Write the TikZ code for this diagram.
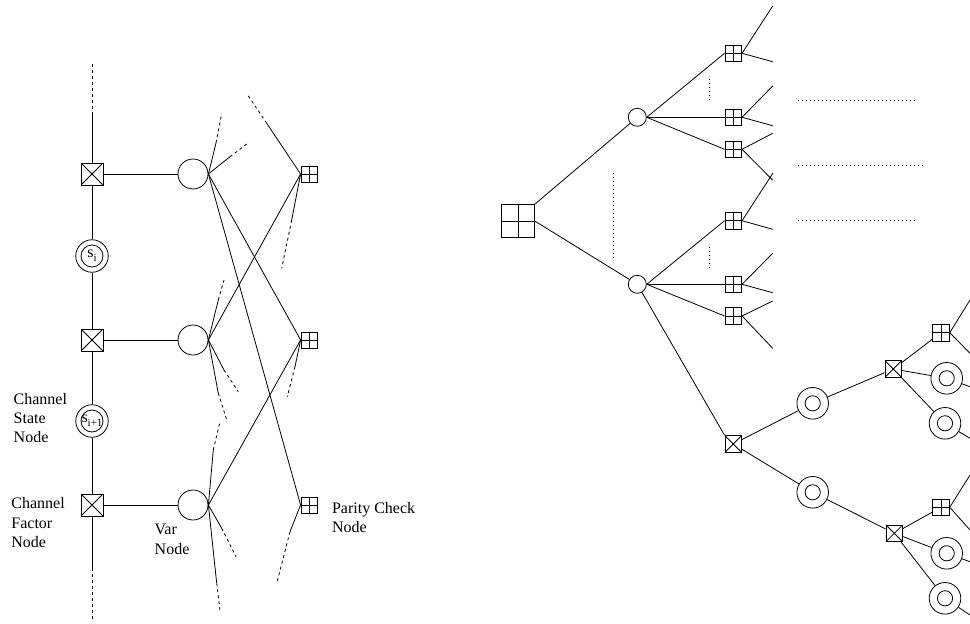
\documentclass[tikz,border=0pt]{standalone}
\usepackage{fontspec}
\setmainfont{Liberation Serif}
\begin{document}
\begin{tikzpicture}[x=1pt,y=-1pt,line width=0.8pt,
  factor/.style={draw,inner sep=0pt,minimum size=#1,
    path picture={\draw (path picture bounding box.north west) -- (path picture bounding box.south east)
      (path picture bounding box.north east) -- (path picture bounding box.south west);}},
  parity/.style={draw,inner sep=0pt,minimum size=#1,
    path picture={\draw (path picture bounding box.north) -- (path picture bounding box.south)
      (path picture bounding box.west) -- (path picture bounding box.east);}},
  varnode/.style={draw,circle,inner sep=0pt,minimum size=#1},
  statenode/.style 2 args={draw,circle,inner sep=0pt,minimum size=#1,
    path picture={\draw (path picture bounding box.center) circle (#2);}},
  dsh/.style={dash pattern=on 3pt off 3pt},
  dots/.style={line width=0.6pt,dash pattern=on 0.8pt off 3.2pt},
  lbl/.style={anchor=north west,inner sep=0pt,align=left,font=\fontsize{16}{19.2}\selectfont}]
\useasboundingbox (0,0) rectangle (970,624);

% ---------- left graph ----------
\node[factor=22pt] (f1) at (92,174) {};
\node[statenode={32.5pt}{11pt},font=\fontsize{16}{16}\selectfont] (s1) at (92,256) {s\raisebox{-4pt}{\fontsize{11}{11}\selectfont i}};
\node[factor=22pt] (f2) at (92,340) {};
\node[statenode={32.5pt}{11pt},font=\fontsize{16}{16}\selectfont] (s2) at (92,421) {s\raisebox{-4pt}{\fontsize{11}{11}\selectfont i+1}};
\node[factor=22pt] (f3) at (92,505) {};

\coordinate (topS) at (92,115); \coordinate (topE) at (92,62);
\coordinate (botS) at (92,568); \coordinate (botE) at (92,620);
\draw (f1) -- (topS); \draw[dsh] (topS) -- (topE);
\draw (f1) -- (s1) -- (f2) -- (s2) -- (f3) -- (botS);
\draw[dsh] (botS) -- (botE);

\node[varnode=30pt] (v1) at (193,174) {};
\node[varnode=30pt] (v2) at (193,340) {};
\node[varnode=30pt] (v3) at (193,505) {};
\node[parity=16pt] (p1) at (309,174) {};
\node[parity=16pt] (p2) at (309,340) {};
\node[parity=16pt] (p3) at (309,505) {};

\draw (f1) -- (v1); \draw (f2) -- (v2); \draw (f3) -- (v3);
\draw (v1.east) -- (p2.west);
\draw (v1.east) -- (p3.west);
\draw (v2.east) -- (p1.west);
\draw (v3.east) -- (p2.west);

% dangling edges (solid part then dashed)
\coordinate (a1m) at (216,143);   \coordinate (a1e) at (221.7,113.3);
\coordinate (a2m) at (230,156.7); \coordinate (a2e) at (247.7,143.3);
\coordinate (b1m) at (266.7,123.3); \coordinate (b1e) at (247.7,95);
\coordinate (b2m) at (291.7,220); \coordinate (b2e) at (281.7,268.3);
\coordinate (c1m) at (218.3,300); \coordinate (c1e) at (224,280);
\coordinate (c2m) at (224,370);   \coordinate (c2e) at (238.3,391.7);
\coordinate (c3m) at (218.3,393.3); \coordinate (c3e) at (227.3,421.7);
\coordinate (d1m) at (295,366.7); \coordinate (d1e) at (287.3,396.7);
\coordinate (e1m) at (213.3,450); \coordinate (e1e) at (220,421.7);
\coordinate (e2m) at (221.7,528.3); \coordinate (e2e) at (236,556.7);
\coordinate (e3m) at (216.7,583.3); \coordinate (e3e) at (220,610);
\coordinate (g1m) at (290,531.7); \coordinate (g1e) at (276.7,583.3);

\draw (v1.east) -- (a1m); \draw[dsh] (a1m) -- (a1e);
\draw (v1.east) -- (a2m); \draw[dsh] (a2m) -- (a2e);
\draw (p1.west) -- (b1m); \draw[dsh] (b1m) -- (b1e);
\draw (p1.west) -- (b2m); \draw[dsh] (b2m) -- (b2e);
\draw (v2.east) -- (c1m); \draw[dsh] (c1m) -- (c1e);
\draw (v2.east) -- (c2m); \draw[dsh] (c2m) -- (c2e);
\draw (v2.east) -- (c3m); \draw[dsh] (c3m) -- (c3e);
\draw (p2.west) -- (d1m); \draw[dsh] (d1m) -- (d1e);
\draw (v3.east) -- (e1m); \draw[dsh] (e1m) -- (e1e);
\draw (v3.east) -- (e2m); \draw[dsh] (e2m) -- (e2e);
\draw (v3.east) -- (e3m); \draw[dsh] (e3m) -- (e3e);
\draw (p3.west) -- (g1m); \draw[dsh] (g1m) -- (g1e);

% labels
\node[lbl] (l1) at (13.3,393) {Channel\\State\\Node};
\node[lbl] (l2) at (11,497.3) {Channel\\Factor\\Node};
\node[lbl] (l3) at (154.3,524) {Var\\Node};
\node[lbl] (l4) at (331.7,502) {Parity Check\\Node};

% ---------- right tree ----------
\node[parity=32.6pt] (B) at (518,221) {};
\node[varnode=18pt] (V1) at (637.3,117.3) {};
\node[varnode=18pt] (V2) at (637.3,284.3) {};
\foreach \n/\y in {1/53.3,2/117.3,3/149.3,4/220.7,5/284.3,6/316}
  \node[parity=16.7pt] (Q\n) at (733.3,\y) {};
\node[factor=16.7pt] (F1) at (733.3,444) {};
\node[statenode={31.6pt}{7.6pt}] (S1) at (812.7,403.3) {};
\node[statenode={31.6pt}{7.6pt}] (S2) at (812.7,492.3) {};
\node[factor=16.7pt] (F2) at (893.3,369) {};
\node[factor=16.7pt] (F3) at (894.3,533.3) {};
\node[parity=16.7pt] (P1) at (941,332.7) {};
\node[statenode={31.6pt}{7.6pt}] (T1) at (946.7,378.3) {};
\node[statenode={31.6pt}{7.6pt}] (T2) at (945,423.3) {};
\node[parity=16.7pt] (P2) at (941,507.3) {};
\node[statenode={31.6pt}{7.6pt}] (T3) at (946.7,553.3) {};
\node[statenode={31.6pt}{7.6pt}] (T4) at (945,598.3) {};

\draw (B.north east) -- (V1);
\draw (B.east) -- (V2);
\foreach \n in {1,2,3} \draw (V1.east) -- (Q\n.west);
\foreach \n in {4,5,6} \draw (V2.east) -- (Q\n.west);
\draw (V2) -- (F1.north west);
\draw (F1) -- (S1); \draw (F1) -- (S2);
\draw (S1) -- (F2); \draw (S2) -- (F3);
\draw (F2) -- (P1); \draw (F2) -- (T1); \draw (F2) -- (T2);
\draw (F3) -- (P2); \draw (F3) -- (T3); \draw (F3) -- (T4);

% free ends of the tree
\coordinate (q1u) at (772.7,6);    \coordinate (q1d) at (772.7,61.7);
\coordinate (q2u) at (772.7,86);   \coordinate (q2d) at (772.7,125.7);
\coordinate (q3u) at (772.7,133.3); \coordinate (q3d) at (772.5,180);
\coordinate (q4u) at (773,173);    \coordinate (q4d) at (772.7,229.3);
\coordinate (q5u) at (772.7,253.3); \coordinate (q5d) at (772.7,292.7);
\coordinate (q6u) at (772.7,301);  \coordinate (q6d) at (772.7,348.3);
\foreach \n in {1,...,6} {\draw (Q\n.east) -- (q\n u); \draw (Q\n.east) -- (q\n d);}
\coordinate (r1u) at (970,300); \coordinate (r1d) at (970,353.3);
\coordinate (r2u) at (970,475); \coordinate (r2d) at (970,530);
\coordinate (t1e) at (970,386.7); \coordinate (t2e) at (970,438.3);
\coordinate (t3e) at (970,561.7); \coordinate (t4e) at (970,615);
\draw (P1.east) -- (r1u); \draw (P1.east) -- (r1d);
\draw (P2.east) -- (r2u); \draw (P2.east) -- (r2d);
\draw (T1) -- (t1e); \draw (T2) -- (t2e); \draw (T3) -- (t3e); \draw (T4) -- (t4e);

% dotted ellipses
\draw[dots] (613.3,173) -- (613.3,260);
\draw[dots] (709.3,79) -- (709.3,100);
\draw[dots] (709.3,247) -- (709.3,268);
\draw[dots] (797.7,100.7) -- (915,100.7);
\draw[dots] (797.7,165) -- (923.3,165);
\draw[dots] (797.7,220.7) -- (915,220.7);
\end{tikzpicture}
\end{document}
